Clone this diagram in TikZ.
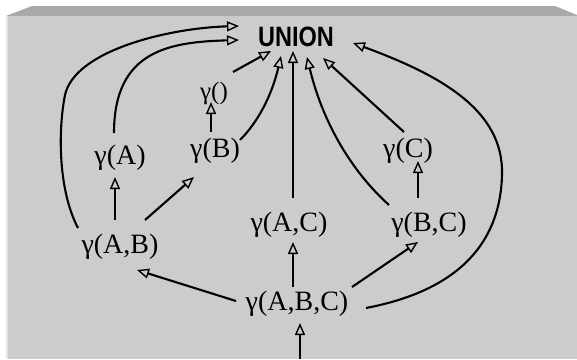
\documentclass[tikz,border=0pt]{standalone}
\usepackage{fontspec}
\setmainfont{Liberation Serif}
\newfontfamily\unionfont{Liberation Sans}
\usetikzlibrary{arrows.meta,calc}
\definecolor{panel}{HTML}{CCCCCC}
\definecolor{band}{HTML}{A9A9A9}
\definecolor{edge}{HTML}{E4E4E4}
\tikzset{
  lbl/.style={inner sep=0pt, font=\fontsize{28}{28}\selectfont},
  smalllbl/.style={inner sep=0pt, font=\fontsize{25}{25}\selectfont},
  conn/.style={line width=2.1pt, -{Triangle[open,length=12pt,width=10pt,line width=1.4pt]}},
}
\begin{document}
\begin{tikzpicture}[x=1pt,y=-1pt]
\useasboundingbox (0,0) rectangle (577,359);
% panel
\fill[panel] (6,16) rectangle (577,359);
\fill[band] (6,16) -- (32,6) -- (555,6) -- (577,15) -- (577,16) -- cycle;
\fill[edge] (6,16) rectangle (7.5,359);
% nodes
\node[inner sep=0pt] (union) at (296,37) {\scalebox{0.84}[1]{\unionfont\bfseries\fontsize{28}{28}\selectfont UNION}};
\node[smalllbl] (g0) at (214,93) {γ()};
\node[lbl] (gB) at (215,151) {γ(B)};
\node[lbl] (gA) at (120,158) {γ(A)};
\node[lbl] (gC) at (408,151) {γ(C)};
\node[lbl] (gAB) at (120,247) {γ(A,B)};
\node[lbl] (gAC) at (289,225) {γ(A,C)};
\node[lbl] (gBC) at (429,225) {γ(B,C)};
\node[lbl] (gABC) at (297,304) {γ(A,B,C)};
\coordinate (bottom) at (300,359);
% connectors
\draw[conn] (bottom) -- ($(gABC)+(3,19)$);
\draw[conn] ($(gABC)+(-61,-3)$) -- ($(gAB)+(17,23)$);
\draw[conn] ($(gABC)+(-4,-17)$) -- ($(gAC)+(4,17)$);
\draw[conn] ($(gABC)+(55,-17)$) -- ($(gBC)+(-11,17)$);
\draw[conn] ($(gAB)+(-5,-27)$) -- ($(gA)+(-5,19)$);
\draw[conn] ($(gAB)+(25,-27)$) -- ($(gB)+(-21,26)$);
\draw[conn] ($(gB)+(-4,-19)$) -- ($(g0)+(-3,9)$);
\draw[conn] ($(gBC)+(-11,-27)$) -- ($(gC)+(10,10)$);
\draw[conn] ($(g0)+(19,-21)$) -- ($(union)+(-25,14)$);
\draw[conn] ($(gB)+(25,-11)$) .. controls (258,122) and (272,95) .. ($(union)+(-15,19)$);
\draw[conn] ($(gAC)+(4,-27)$) -- ($(union)+(-3,14)$);
\draw[conn] ($(gBC)+(-40,-20)$) .. controls (350,170) and (322,120) .. ($(union)+(11,20)$);
\draw[conn] ($(gC)+(-4,-19)$) -- ($(union)+(27,21)$);
\draw[conn] ($(gABC)+(69,4)$) .. controls (450,292) and (500,250) .. (502,175)
  .. controls (504,110) and (440,75) .. ($(union)+(57,6)$);
\draw[conn] ($(gA)+(-6,-25)$) .. controls (114,50) and (170,42) .. ($(union)+(-57,3)$);
\draw[conn] ($(gAB)+(-42,-19)$) .. controls (58,190) and (58,130) .. (65,95)
  .. controls (75,50) and (170,28) .. ($(union)+(-57,-11)$);
\end{tikzpicture}
\end{document}
